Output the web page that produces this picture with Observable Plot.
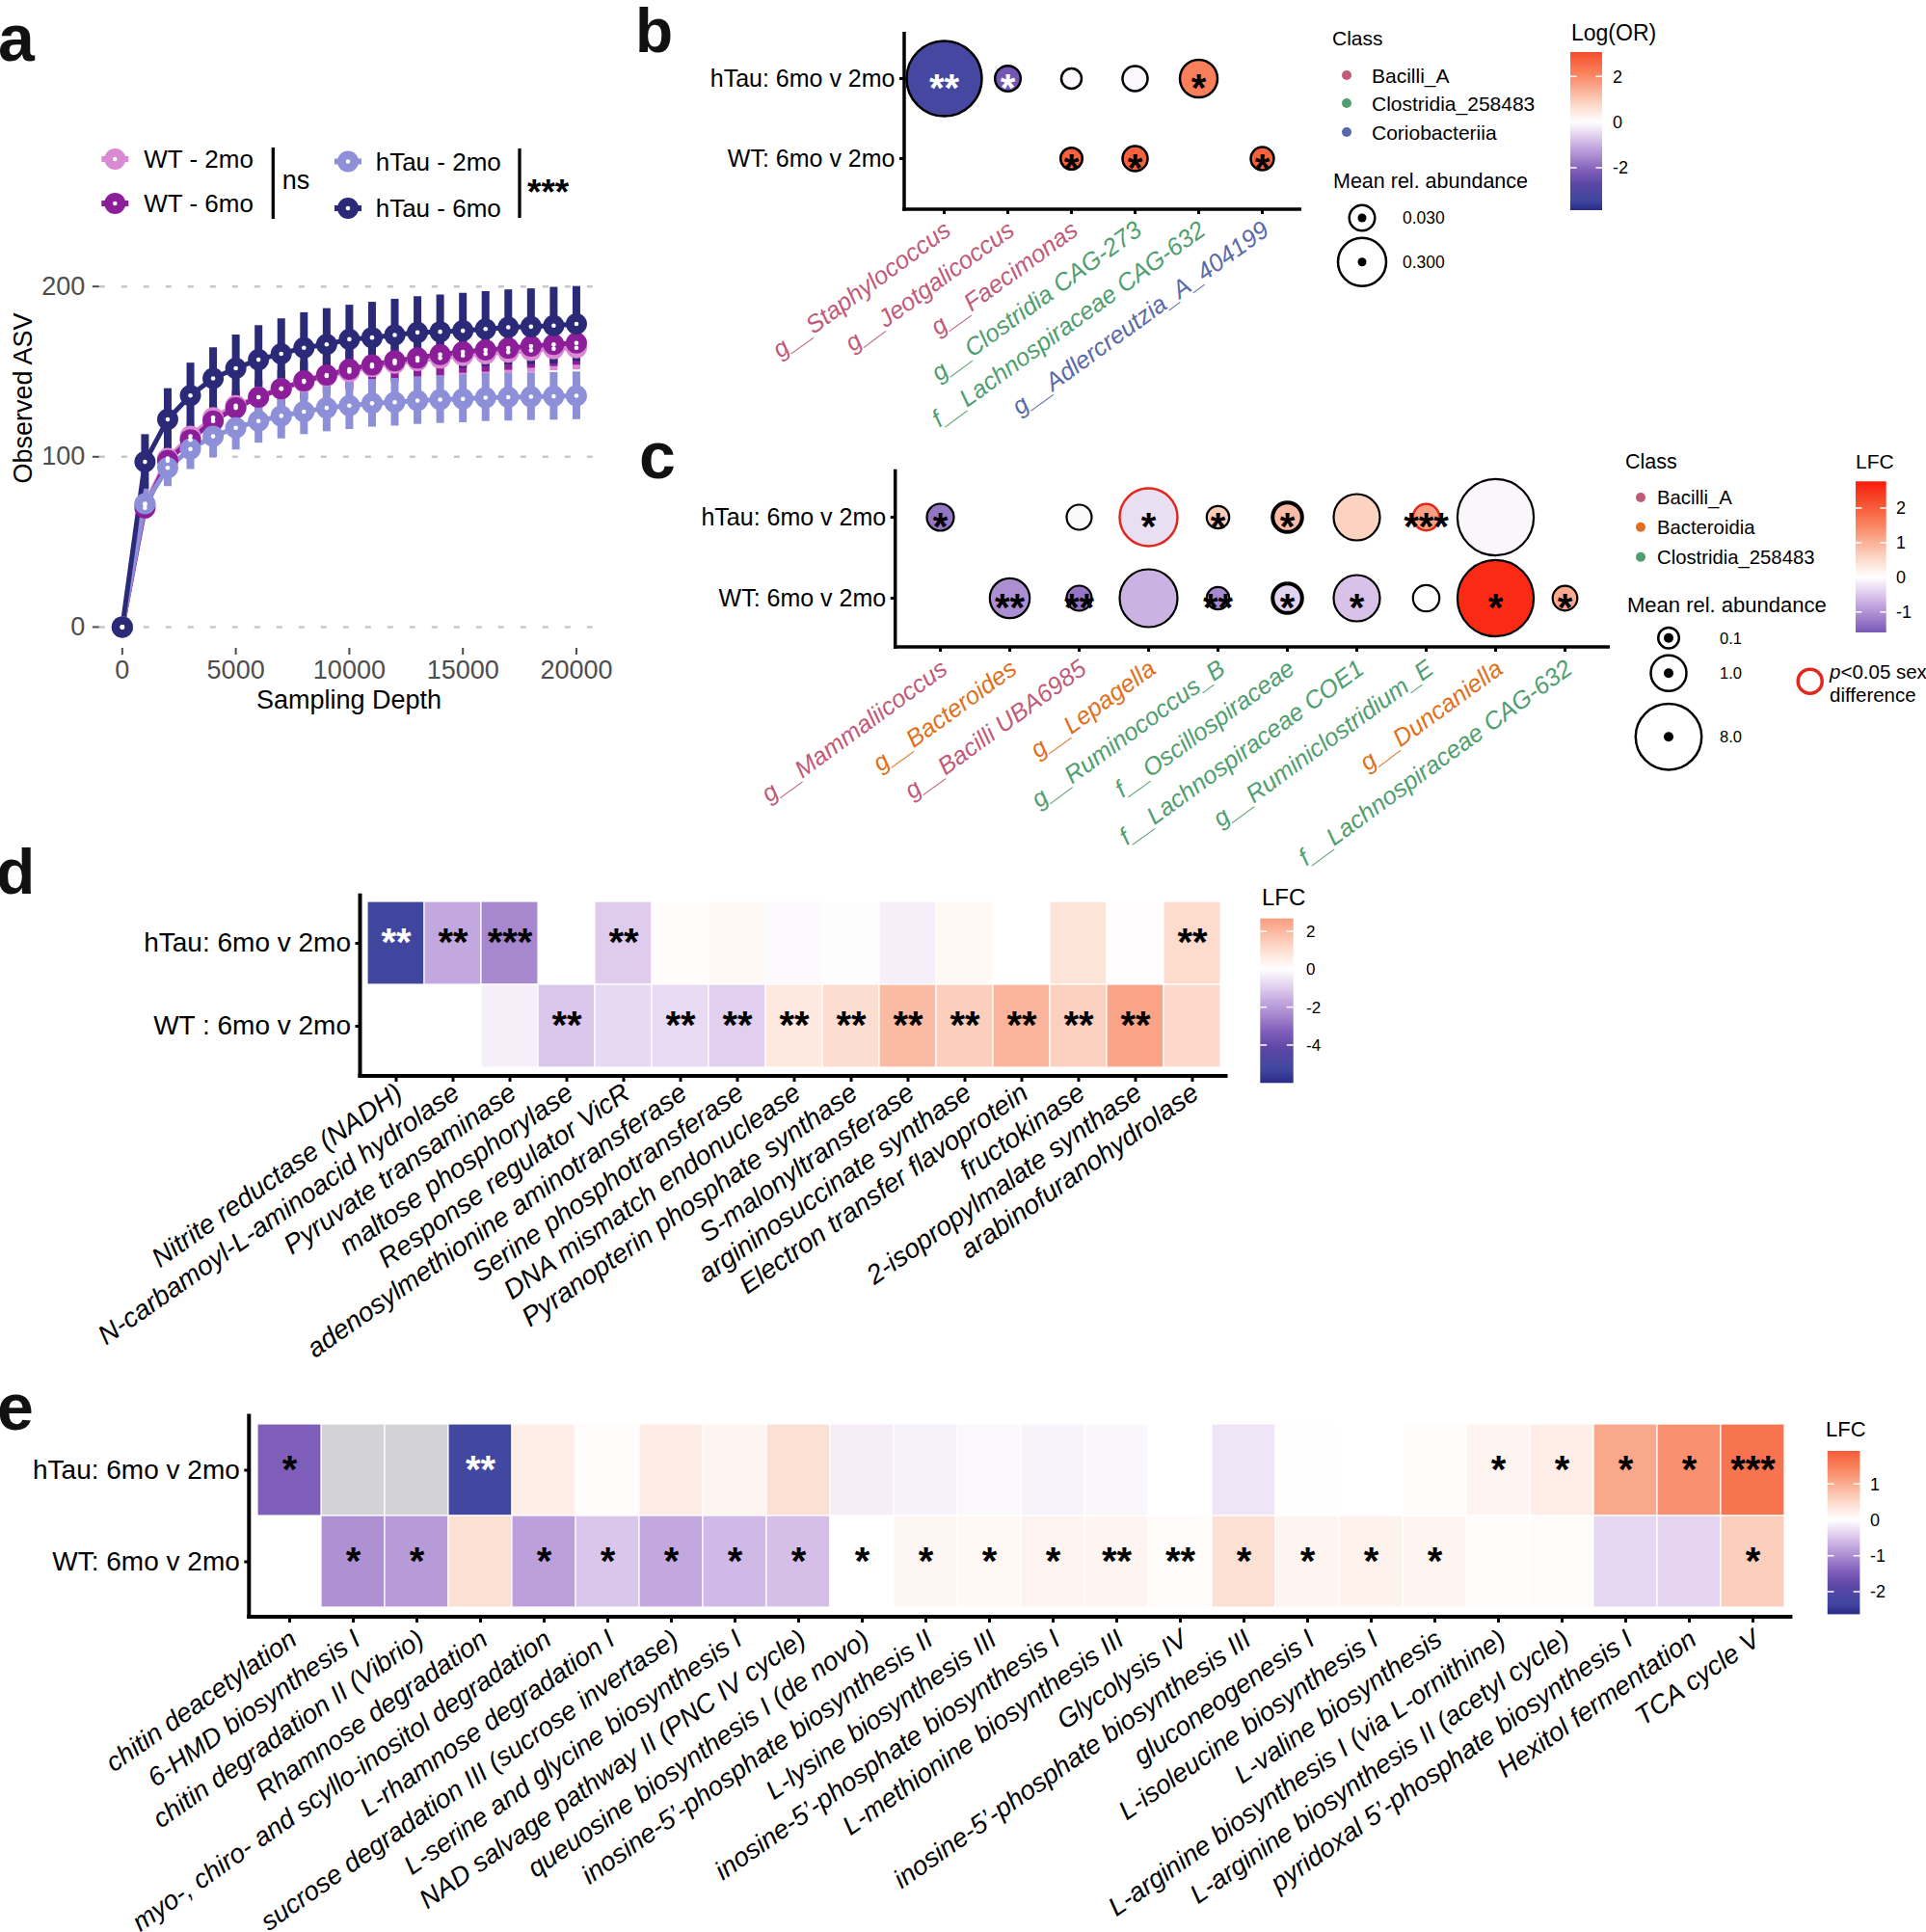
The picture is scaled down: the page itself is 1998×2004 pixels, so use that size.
<!DOCTYPE html>
<html>
<head>
<meta charset="utf-8">
<script src="https://cdn.jsdelivr.net/npm/d3@7"></script>
<script src="https://cdn.jsdelivr.net/npm/@observablehq/plot@0.6"></script>
<style>
  html, body { margin: 0; padding: 0; background: #ffffff; }
  body { position: relative; width: 1998px; height: 2004px; overflow: hidden; font-family: "Liberation Sans", Arial, sans-serif; }
  .panel { position: absolute; }
  .panel svg { max-width: none; overflow: visible; display: block; }
  #overlay { position: absolute; left: 0; top: 0; pointer-events: none; overflow: visible; }
</style>
</head>
<body>
<div id="pa" class="panel" style="left:0px;top:0px"></div>
<div id="pb" class="panel" style="left:650px;top:0px"></div>
<div id="pc" class="panel" style="left:650px;top:440px"></div>
<div id="pd" class="panel" style="left:0px;top:880px"></div>
<div id="pe" class="panel" style="left:0px;top:1420px"></div>
<svg id="overlay" width="1998" height="2004"></svg>
<script>
// ================= DATA =================
// Panel a: rarefaction curves
const depth = [0, 1000, 2000, 3000, 4000, 5000, 6000, 7000, 8000, 9000, 10000, 11000, 12000, 13000, 14000, 15000, 16000, 17000, 18000, 19000, 20000];
const groups = ["WT - 2mo", "WT - 6mo", "hTau - 2mo", "hTau - 6mo"];
const groupColors = ["#D98AD3", "#8C1F99", "#8D90D8", "#2B2A78"];
const wt2Mean = [0, 72, 99, 112, 123, 130, 135, 140, 144, 147.5, 150, 153, 155, 156.5, 158, 159.5, 160.5, 161.5, 162.5, 163.5, 164];
const wt2Sd   = [0, 6, 7, 8, 9, 9.5, 10, 10.5, 11, 11, 11.5, 12, 12, 12, 12.5, 12.5, 13, 13, 13, 13, 13];
const wt6Mean = [0, 70, 97.7, 110, 121, 128.7, 135, 140, 144.6, 148, 151.4, 154, 156.4, 158, 160, 161.6, 162.7, 163.8, 165, 166, 166.8];
const wt6Sd   = [0, 6, 7, 8, 9, 9.5, 10, 10.5, 11, 11, 11.5, 12, 12, 12, 12.5, 12.5, 13, 13, 13, 13, 13];
const ht2Mean = [0, 72.4, 93.5, 104.5, 112, 117, 121, 124, 126.5, 128.7, 130, 131.4, 132, 133, 133.6, 134, 134.7, 135, 135.3, 135.5, 135.8];
const ht2Sd   = [0, 9, 11, 12, 12.5, 13, 13, 13.5, 13.5, 14, 14, 14, 14, 14, 14, 14, 14, 14, 14, 14, 14];
const ht6Mean = [0, 97, 122, 136, 146, 152, 157, 160.5, 164, 166, 169, 170, 171.5, 173, 173.4, 174, 175, 176, 176.4, 177, 178];
const ht6Sd   = [0, 16, 18, 19, 18, 19.5, 20, 20.5, 20.6, 21, 20, 20.7, 21, 21, 21.6, 22, 22, 22, 22.2, 22.5, 22];
const aXTicks = [0, 5000, 10000, 15000, 20000];
const aYTicks = [0, 100, 200];
const aWTTest = "ns";
const aHTauTest = "***";

// Classes
const classNames = ["Bacilli_A", "Bacteroidia", "Clostridia_258483", "Coriobacteriia"];
const classColors = ["#C05A78", "#E07020", "#4F9E6F", "#5A6AA8"];

// Panel b
const rowsBC = ["hTau: 6mo v 2mo", "WT: 6mo v 2mo"];
const bTaxa = ["g__Staphylococcus", "g__Jeotgalicoccus", "g__Faecimonas", "g__Clostridia CAG-273", "f__Lachnospiraceae CAG-632", "g__Adlercreutzia_A_404199"];
const bClass = ["Bacilli_A", "Bacilli_A", "Bacilli_A", "Clostridia_258483", "Clostridia_258483", "Coriobacteriia"];
const bHtauLogOR = [-3.3, -2.3, -0.05, -0.08, 2.2, null];
const bHtauAbund = [0.99, 0.03, 0.007, 0.027, 0.138, null];
const bHtauSig = ["**", "*", "", "", "*", ""];
const bWtLogOR = [null, null, 2.7, 2.7, null, 2.7];
const bWtAbund = [null, null, 0.012, 0.027, null, 0.017];
const bWtSig = ["", "", "*", "*", "", "*"];
const bLegendClasses = ["Bacilli_A", "Clostridia_258483", "Coriobacteriia"];
const bSizeLegend = [0.03, 0.3];
const bSizeLabels = ["0.030", "0.300"];
const bColorLimits = [-3.86, 3.07];
const bColorTicks = [2, 0, -2];

// Panel c
const cTaxa = ["g__Mammaliicoccus", "g__Bacteroides", "g__Bacilli UBA6985", "g__Lepagella", "g__Ruminococcus_B", "f__Oscillospiraceae", "f__Lachnospiraceae COE1", "g__Ruminiclostridium_E", "g__Duncaniella", "f__Lachnospiraceae CAG-632"];
const cClass = ["Bacilli_A", "Bacteroidia", "Bacilli_A", "Bacteroidia", "Clostridia_258483", "Clostridia_258483", "Clostridia_258483", "Clostridia_258483", "Bacteroidia", "Clostridia_258483"];
const cAbund = [0.36, 1.58, 0.26, 5.47, 0.157, 0.51, 2.69, 0.33, 11.95, 0.244];
const cHtauLFC = [-1.3, null, -0.05, -0.3, 0.7, 0.9, 0.62, 1.2, -0.08, null];
const cHtauSig = ["*", "", "", "*", "*", "*", "", "***", "", ""];
const cHtauSexDiff = [false, false, false, true, false, false, false, true, false, false];
const cWtLFC = [null, -1.05, -1.3, -0.7, -1.1, -0.4, -0.55, 0, 2.6, 1.1];
const cWtSig = ["", "**", "**", "", "**", "*", "*", "", "*", "*"];
const cLegendClasses = ["Bacilli_A", "Bacteroidia", "Clostridia_258483"];
const cSizeLegend = [0.1, 1, 8];
const cSizeLabels = ["0.1", "1.0", "8.0"];
const cColorLimits = [-1.59, 2.77];
const cColorTicks = [2, 1, 0, -1];

// Panel d
const rowsD = ["hTau: 6mo v 2mo", "WT : 6mo v 2mo"];
const dFns = ["Nitrite reductase (NADH)", "N-carbamoyl-L-aminoacid hydrolase", "Pyruvate transaminase", "maltose phosphorylase", "Response regulator VicR", "adenosylmethionine aminotransferase", "Serine phosphotransferase", "DNA mismatch endonuclease", "Pyranopterin phosphate synthase", "S-malonyltransferase", "argininosuccinate synthase", "Electron transfer flavoprotein", "fructokinase", "2-isopropylmalate synthase", "arabinofuranohydrolase"];
const dHtauLFC = [-5.3, -1.7, -2.4, null, -1.0, 0.1, 0.2, -0.1, -0.03, -0.3, 0.2, null, 0.85, 0.05, 1.1];
const dHtauSig = ["**", "**", "***", "", "**", "", "", "", "", "", "", "", "", "", "**"];
const dWtLFC = [null, null, -0.3, -1.1, -0.75, -0.72, -0.95, 0.72, 1.05, 1.95, 1.45, 2.1, 1.4, 2.5, 1.15];
const dWtSig = ["", "", "", "**", "", "**", "**", "**", "**", "**", "**", "**", "**", "**", ""];
const dColorLimits = [-6, 2.68];
const dColorTicks = [2, 0, -2, -4];

// Panel e
const rowsE = ["hTau: 6mo v 2mo", "WT: 6mo v 2mo"];
const eFns = ["chitin deacetylation", "6-HMD biosynthesis I", "chitin degradation II (Vibrio)", "Rhamnose degradation", "myo-, chiro- and scyllo-inositol degradation", "L-rhamnose degradation I", "sucrose degradation III (sucrose invertase)", "L-serine and glycine biosynthesis I", "NAD salvage pathway II (PNC IV cycle)", "queuosine biosynthesis I (de novo)", "inosine-5\u2019-phosphate biosynthesis II", "L-lysine biosynthesis III", "inosine-5\u2019-phosphate biosynthesis I", "L-methionine biosynthesis III", "Glycolysis IV", "inosine-5\u2019-phosphate biosynthesis III", "gluconeogenesis I", "L-isoleucine biosynthesis I", "L-valine biosynthesis", "L-arginine biosynthesis I (via L-ornithine)", "L-arginine biosynthesis II (acetyl cycle)", "pyridoxal 5\u2019-phosphate biosynthesis I", "Hexitol fermentation", "TCA cycle V"];
const eHtauLFC = [-1.45, "NA", "NA", -2.3, 0.24, 0.03, 0.27, 0.15, 0.42, -0.14, -0.12, -0.06, -0.1, -0.07, null, -0.22, 0.01, null, 0.05, 0.15, 0.24, 1.05, 1.3, 1.63];
const eHtauSig = ["*", "", "", "**", "", "", "", "", "", "", "", "", "", "", "", "", "", "", "", "*", "*", "*", "*", "***"];
const eWtLFC = [null, -0.97, -0.88, 0.42, -0.82, -0.5, -0.75, -0.6, -0.55, 0, 0.13, 0.1, 0.16, 0.14, 0.06, 0.42, 0.15, 0.18, 0.14, 0.04, 0.05, -0.35, -0.36, 0.62];
const eWtSig = ["", "*", "*", "", "*", "*", "*", "*", "*", "*", "*", "*", "*", "**", "**", "*", "*", "*", "*", "", "", "", "", "*"];
const eColorLimits = [-2.63, 1.92];
const eColorTicks = [1, 0, -1, -2];

// diverging palette (relative position -> colour)
const divT = [-1, -0.88, -0.7, -0.55, -0.42, -0.3, -0.18, -0.08, 0, 0.08, 0.18, 0.3, 0.42, 0.55, 0.7, 0.85, 1];
const divC = ["#2B2A88", "#41479F", "#5C46A6", "#7F5EBA", "#A283CC", "#BFA3DD", "#DCC8EC", "#F0E6F6", "#FFFFFF", "#FEF0EA", "#FDDCCE", "#FBC0AA", "#FAA386", "#F9845F", "#F7623E", "#F44024", "#FF1A0A"];

// ================= HELPERS =================
const FONT = "Liberation Sans, Arial, sans-serif";
const baseStyle = {fontFamily: FONT, background: "transparent", overflow: "visible"};
const classColor = c => classColors[classNames.indexOf(c)];
function divColor(M) {
  return {type: "linear", domain: divT.map(t => t * M), range: divC, clamp: true};
}
function addAxisLines(svg, m, w) {
  const s = d3.select(svg);
  const x0 = m.left, x1 = m.width - m.right, y0 = m.top, y1 = m.height - m.bottom;
  s.append("line").attr("x1", x0).attr("x2", x0).attr("y1", y0).attr("y2", y1 + w / 2).attr("stroke", "#000").attr("stroke-width", w);
  s.append("line").attr("x1", x0 - w / 2).attr("x2", x1).attr("y1", y1).attr("y2", y1).attr("stroke", "#000").attr("stroke-width", w);
}
function sigMarks(data, xKey, M, dy, size) {
  const o = {x: xKey, y: "row", text: "sig", fontSize: size, fontWeight: "bold", fontFamily: FONT, dy};
  return [
    Plot.text(data.filter(d => d.sig && d.v / M < -0.58), {...o, fill: "white"}),
    Plot.text(data.filter(d => d.sig && !(d.v / M < -0.58)), {...o, fill: "black"})
  ];
}
function rotatedLabels(names, colorOf, o) {
  const marks = [];
  const cols = Array.from(new Set(names.map(colorOf)));
  cols.forEach(col => {
    marks.push(Plot.text(names.filter(n => colorOf(n) === col), {
      x: d => d, text: d => d, frameAnchor: "bottom", textAnchor: "end", lineAnchor: "top",
      rotate: o.rotate, dx: o.dx, dy: o.dy, fill: col, fontSize: o.size, fontStyle: "italic", fontFamily: FONT
    }));
  });
  return marks;
}

// ================= PANEL A =================
const aMeans = [wt2Mean, wt6Mean, ht2Mean, ht6Mean];
const aSds = [wt2Sd, wt6Sd, ht2Sd, ht6Sd];
const aRows = [];
groups.forEach((g, gi) => depth.forEach((x, i) => aRows.push({group: g, depth: x, mean: aMeans[gi][i], lo: aMeans[gi][i] - aSds[gi][i], hi: aMeans[gi][i] + aSds[gi][i]})));
const mA = {width: 640, height: 760, left: 102.8, right: 19, top: 279, bottom: 88};
const plotA = Plot.plot({
  width: mA.width, height: mA.height, marginLeft: mA.left, marginRight: mA.right, marginTop: mA.top, marginBottom: mA.bottom,
  style: baseStyle,
  x: {domain: [-1000, 21000]},
  y: {domain: [-12.5, 210]},
  color: {domain: groups, range: groupColors},
  marks: [
    Plot.ruleY(aYTicks, {stroke: "#C8C8C8", strokeWidth: 2.5, strokeDasharray: "6,17"}),
    Plot.ruleX(aRows.filter(d => d.hi > d.lo), {x: "depth", y1: "lo", y2: "hi", stroke: "group", strokeWidth: 8}),
    Plot.line(aRows, {x: "depth", y: "mean", z: "group", stroke: "group", strokeWidth: 5}),
    Plot.dot(aRows, {x: "depth", y: "mean", fill: "group", r: 11}),
    Plot.dot(aRows, {x: "depth", y: "mean", fill: "white", r: 2.3}),
    Plot.axisX({ticks: aXTicks, tickFormat: "d", tickSize: 7, tickPadding: 5, fontSize: 27, color: "#4D4D4D", strokeWidth: 2, label: null}),
    Plot.axisY({ticks: aYTicks, tickSize: 7, tickPadding: 8, fontSize: 27, color: "#4D4D4D", strokeWidth: 2, label: null})
  ]
});
document.getElementById("pa").appendChild(plotA);

// ================= PANEL B =================
const bData = [];
bTaxa.forEach((t, i) => {
  if (bHtauLogOR[i] != null) bData.push({taxon: t, row: rowsBC[0], v: bHtauLogOR[i], ab: bHtauAbund[i], sig: bHtauSig[i]});
  if (bWtLogOR[i] != null) bData.push({taxon: t, row: rowsBC[1], v: bWtLogOR[i], ab: bWtAbund[i], sig: bWtSig[i]});
});
const bM = Math.max(...bColorLimits.map(Math.abs));
const bR = {type: "pow", exponent: 0.5, domain: [0.03, 0.3], range: [13.3, 25]};
const mB = {width: 720, height: 450, left: 288, right: 20, top: 33, bottom: 233};
const plotB = Plot.plot({
  width: mB.width, height: mB.height, marginLeft: mB.left, marginRight: mB.right, marginTop: mB.top, marginBottom: mB.bottom,
  style: baseStyle,
  x: {type: "point", domain: bTaxa, padding: 0.58},
  y: {type: "point", domain: rowsBC, range: [81, 164.5], padding: 0},
  r: bR,
  color: divColor(bM),
  marks: [
    Plot.axisY({tickSize: 5, tickPadding: 5, fontSize: 25, strokeWidth: 3, label: null, fontFamily: FONT}),
    Plot.axisX({tickSize: 5, tickFormat: () => "", strokeWidth: 3, label: null}),
    Plot.dot(bData, {x: "taxon", y: "row", r: "ab", fill: "v", stroke: "black", strokeWidth: 2.5}),
    ...sigMarks(bData, "taxon", bM, 10.4, 40),
    ...rotatedLabels(bTaxa, n => classColor(bClass[bTaxa.indexOf(n)]), {rotate: -36, dx: -2, dy: 10, size: 25.5})
  ]
});
addAxisLines(plotB, mB, 3.5);
document.getElementById("pb").appendChild(plotB);

// ================= PANEL C =================
const cData = [];
cTaxa.forEach((t, i) => {
  if (cHtauLFC[i] != null) cData.push({taxon: t, row: rowsBC[0], v: cHtauLFC[i], ab: cAbund[i], sig: cHtauSig[i], sex: cHtauSexDiff[i]});
  if (cWtLFC[i] != null) cData.push({taxon: t, row: rowsBC[1], v: cWtLFC[i], ab: cAbund[i], sig: cWtSig[i], sex: false});
});
const cM = Math.max(...cColorLimits.map(Math.abs));
const cR = {type: "pow", exponent: 0.5, domain: [0.1, 1, 8], range: [10.8, 18.5, 34.2]};
const thickOutline = ["f__Oscillospiraceae"];
const mC = {width: 1022, height: 460, left: 278.7, right: 2, top: 46.7, bottom: 229};
const plotC = Plot.plot({
  width: mC.width, height: mC.height, marginLeft: mC.left, marginRight: mC.right, marginTop: mC.top, marginBottom: mC.bottom,
  style: baseStyle,
  x: {type: "point", domain: cTaxa, padding: 0.58},
  y: {type: "point", domain: rowsBC, range: [96, 180.5], padding: 0},
  r: cR,
  color: divColor(cM),
  marks: [
    Plot.axisY({tickSize: 5, tickPadding: 5, fontSize: 25, strokeWidth: 3, label: null, fontFamily: FONT}),
    Plot.axisX({tickSize: 5, tickFormat: () => "", strokeWidth: 3, label: null}),
    Plot.dot(cData.filter(d => !d.sex && !thickOutline.includes(d.taxon)), {x: "taxon", y: "row", r: "ab", fill: "v", stroke: "black", strokeWidth: 2.2}),
    Plot.dot(cData.filter(d => !d.sex && thickOutline.includes(d.taxon)), {x: "taxon", y: "row", r: "ab", fill: "v", stroke: "black", strokeWidth: 4}),
    Plot.dot(cData.filter(d => d.sex), {x: "taxon", y: "row", r: "ab", fill: "v", stroke: "#E0281E", strokeWidth: 2.5}),
    ...sigMarks(cData, "taxon", cM, 10.4, 40),
    ...rotatedLabels(cTaxa, n => classColor(cClass[cTaxa.indexOf(n)]), {rotate: -36, dx: -1.5, dy: 11, size: 25.5})
  ]
});
addAxisLines(plotC, mC, 3.5);
document.getElementById("pc").appendChild(plotC);

// ================= PANEL D =================
const dData = [];
dFns.forEach((f, i) => {
  if (dHtauLFC[i] != null) dData.push({fn: f, row: rowsD[0], v: dHtauLFC[i], sig: dHtauSig[i]});
  if (dWtLFC[i] != null) dData.push({fn: f, row: rowsD[1], v: dWtLFC[i], sig: dWtSig[i]});
});
const dM = Math.max(...dColorLimits.map(Math.abs));
const mD = {width: 1290, height: 520, left: 373.5, right: 16.5, top: 46.7, bottom: 284};
const plotD = Plot.plot({
  width: mD.width, height: mD.height, marginLeft: mD.left, marginRight: mD.right, marginTop: mD.top, marginBottom: mD.bottom,
  style: baseStyle,
  x: {type: "band", domain: dFns, paddingInner: 0, paddingOuter: 0.1},
  y: {type: "band", domain: rowsD, paddingInner: 0, paddingOuter: 0.1},
  color: divColor(dM),
  marks: [
    Plot.cell(dData, {x: "fn", y: "row", fill: "v", stroke: "white", strokeWidth: 1.2, inset: 0}),
    ...sigMarks(dData, "fn", dM, 0, 40),
    Plot.axisY({tickSize: 5, tickPadding: 5, fontSize: 28, strokeWidth: 3, label: null, fontFamily: FONT}),
    Plot.axisX({tickSize: 6, tickFormat: () => "", strokeWidth: 3, label: null}),
    ...rotatedLabels(dFns, () => "#000000", {rotate: -35, dx: -3, dy: 5, size: 28})
  ]
});
addAxisLines(plotD, mD, 4);
document.getElementById("pd").appendChild(plotD);

// ================= PANEL E =================
const eData = [], eNA = [];
eFns.forEach((f, i) => {
  if (eHtauLFC[i] === "NA") eNA.push({fn: f, row: rowsE[0]});
  else if (eHtauLFC[i] != null) eData.push({fn: f, row: rowsE[0], v: eHtauLFC[i], sig: eHtauSig[i]});
  if (eWtLFC[i] != null) eData.push({fn: f, row: rowsE[1], v: eWtLFC[i], sig: eWtSig[i]});
});
const eM = Math.max(...eColorLimits.map(Math.abs));
const mE = {width: 1880, height: 584, left: 258.3, right: 20.6, top: 46.6, bottom: 327};
const plotE = Plot.plot({
  width: mE.width, height: mE.height, marginLeft: mE.left, marginRight: mE.right, marginTop: mE.top, marginBottom: mE.bottom,
  style: baseStyle,
  x: {type: "band", domain: eFns, paddingInner: 0, paddingOuter: 0.1},
  y: {type: "band", domain: rowsE, paddingInner: 0, paddingOuter: 0.1},
  color: divColor(eM),
  marks: [
    Plot.cell(eNA, {x: "fn", y: "row", fill: "#D3D2D4", stroke: "white", strokeWidth: 1.2, inset: 0}),
    Plot.cell(eData, {x: "fn", y: "row", fill: "v", stroke: "white", strokeWidth: 1.2, inset: 0}),
    ...sigMarks(eData, "fn", eM, 0, 40),
    Plot.axisY({tickSize: 5, tickPadding: 5, fontSize: 28, strokeWidth: 3, label: null, fontFamily: FONT}),
    Plot.axisX({tickSize: 6, tickFormat: () => "", strokeWidth: 3, label: null}),
    ...rotatedLabels(eFns, () => "#000000", {rotate: -35, dx: -2, dy: 11, size: 27.5})
  ]
});
addAxisLines(plotE, mE, 4);
document.getElementById("pe").appendChild(plotE);

// ================= OVERLAY (titles, legends) =================
const ov = d3.select("#overlay");
const defs = ov.append("defs");
function T(x, y, s, o = {}) {
  const t = ov.append("text").attr("x", x).attr("y", y)
    .attr("font-family", FONT).attr("font-size", o.size || 20)
    .attr("font-weight", o.weight || "normal").attr("font-style", o.style || "normal")
    .attr("text-anchor", o.anchor || "start").attr("fill", o.fill || "#000").text(s);
  if (o.rotate) t.attr("transform", `rotate(${o.rotate},${x},${y})`);
  return t;
}
function colorbar(id, x0, y0, x1, y1, limits, M, ticks, lx, fs) {
  const sc = Plot.scale({color: divColor(M)});
  const vTop = limits[1], vBot = limits[0];
  const g = defs.append("linearGradient").attr("id", id).attr("x1", 0).attr("y1", 0).attr("x2", 0).attr("y2", 1);
  for (let i = 0; i <= 80; i++) {
    const v = vTop + (vBot - vTop) * i / 80;
    g.append("stop").attr("offset", i / 80).attr("stop-color", sc.apply(v));
  }
  ov.append("rect").attr("x", x0).attr("y", y0).attr("width", x1 - x0).attr("height", y1 - y0).attr("fill", `url(#${id})`);
  const w = x1 - x0;
  ticks.forEach(t => {
    const y = y0 + (vTop - t) / (vTop - vBot) * (y1 - y0);
    ov.append("line").attr("x1", x0).attr("x2", x0 + w * 0.2).attr("y1", y).attr("y2", y).attr("stroke", "white").attr("stroke-width", 1.5);
    ov.append("line").attr("x1", x1 - w * 0.2).attr("x2", x1).attr("y1", y).attr("y2", y).attr("stroke", "white").attr("stroke-width", 1.5);
    T(lx, y + fs * 0.36, String(t), {size: fs});
  });
}

// panel letters
T(-2, 63, "a", {size: 68, weight: "bold", fill: "#111"});
T(659, 54, "b", {size: 64, weight: "bold", fill: "#111"});
T(663, 496, "c", {size: 68, weight: "bold", fill: "#111"});
T(-4, 927, "d", {size: 66, weight: "bold", fill: "#111"});
T(-3, 1483, "e", {size: 68, weight: "bold", fill: "#111"});

// panel a titles + legend
T(33, 413, "Observed ASV", {size: 27, anchor: "middle", rotate: -90});
T(362, 735, "Sampling Depth", {size: 27, anchor: "middle"});
const aLegPos = [[119.3, 165, 149.3], [119.3, 211, 149.3], [361, 167.5, 389.7], [361, 216, 389.7]];
groups.forEach((g, i) => {
  const [cx, cy, tx] = aLegPos[i];
  ov.append("line").attr("x1", cx - 14).attr("x2", cx + 14).attr("y1", cy).attr("y2", cy).attr("stroke", groupColors[i]).attr("stroke-width", 6);
  ov.append("circle").attr("cx", cx).attr("cy", cy).attr("r", 11).attr("fill", groupColors[i]);
  ov.append("circle").attr("cx", cx).attr("cy", cy).attr("r", 2.3).attr("fill", "white");
  T(tx, cy + 9.4, g, {size: 26});
});
ov.append("line").attr("x1", 283.3).attr("x2", 283.3).attr("y1", 153).attr("y2", 227).attr("stroke", "#000").attr("stroke-width", 3.3);
T(292.7, 196, aWTTest, {size: 27});
ov.append("line").attr("x1", 539).attr("x2", 539).attr("y1", 154).attr("y2", 226).attr("stroke", "#000").attr("stroke-width", 3.3);
T(547, 212, aHTauTest, {size: 37, weight: "bold"});

// panel b legend
T(1382, 46.7, "Class", {size: 21});
bLegendClasses.forEach((c, i) => {
  const cy = [78, 107, 137][i];
  ov.append("circle").attr("cx", 1397).attr("cy", cy).attr("r", 5).attr("fill", classColor(c));
  T(1423, cy + 7.5, c, {size: 21});
});
T(1383, 195, "Mean rel. abundance", {size: 21.5});
const bRs = Plot.scale({r: bR});
bSizeLegend.forEach((v, i) => {
  const cy = [226, 271.7][i];
  ov.append("circle").attr("cx", 1413).attr("cy", cy).attr("r", bRs.apply(v)).attr("fill", "none").attr("stroke", "#000").attr("stroke-width", 2.5);
  ov.append("circle").attr("cx", 1413).attr("cy", cy).attr("r", 4.5).attr("fill", "#000");
  T(1455, cy + 6.2, bSizeLabels[i], {size: 17.5});
});
T(1630, 41.7, "Log(OR)", {size: 23});
colorbar("gb", 1629, 54, 1662, 218, bColorLimits, bM, bColorTicks, 1673, 18);

// panel c legend
T(1686, 486, "Class", {size: 21.5});
cLegendClasses.forEach((c, i) => {
  const cy = [516, 546.7, 577.7][i];
  ov.append("circle").attr("cx", 1702).attr("cy", cy).attr("r", 5).attr("fill", classColor(c));
  T(1719, cy + 7.2, c, {size: 20.3});
});
T(1688, 635, "Mean rel. abundance", {size: 22});
const cRs = Plot.scale({r: cR});
cSizeLegend.forEach((v, i) => {
  const cy = [661.7, 698.3, 764.3][i];
  ov.append("circle").attr("cx", 1731).attr("cy", cy).attr("r", cRs.apply(v)).attr("fill", "none").attr("stroke", "#000").attr("stroke-width", 2.5);
  ov.append("circle").attr("cx", 1731).attr("cy", cy).attr("r", 5).attr("fill", "#000");
  T(1784, cy + 6, cSizeLabels[i], {size: 16.5});
});
T(1925, 486, "LFC", {size: 21});
colorbar("gc", 1925, 499.3, 1956.7, 656, cColorLimits, cM, cColorTicks, 1967, 18);
ov.append("circle").attr("cx", 1877.7).attr("cy", 706.7).attr("r", 12.5).attr("fill", "none").attr("stroke", "#E0281E").attr("stroke-width", 3.5);
const pt = T(1898, 704, "", {size: 20.5});
pt.append("tspan").attr("font-style", "italic").text("p");
pt.append("tspan").text("<0.05 sex");
T(1898, 728, "difference", {size: 20.5});

// panel d legend
T(1309, 939.3, "LFC", {size: 24});
colorbar("gd", 1307.3, 952.7, 1341.7, 1123.3, dColorLimits, dM, dColorTicks, 1355, 17);

// panel e legend
T(1894, 1490, "LFC", {size: 22});
colorbar("ge", 1895.8, 1505, 1929.4, 1674.4, eColorLimits, eM, eColorTicks, 1940, 18);
</script>
</body>
</html>
